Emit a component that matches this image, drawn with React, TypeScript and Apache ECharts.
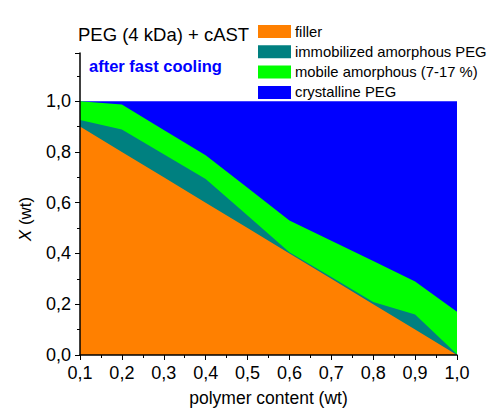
import React, { useEffect, useRef } from "react";
import * as echarts from "echarts";

const xValues = [0.1, 0.2, 0.3, 0.4, 0.5, 0.6, 0.7, 0.8, 0.9, 1.0];
const filler = [0.9, 0.8, 0.7, 0.6, 0.5, 0.4, 0.3, 0.2, 0.1, 0.0];
const immobilized = [0.026, 0.089, 0.091, 0.094, 0.05, 0.005, 0.007, 0.009, 0.06, 0.003];
const mobile = [0.074, 0.098, 0.096, 0.093, 0.109, 0.125, 0.143, 0.161, 0.13, 0.167];
const crystalline = [0.0, 0.013, 0.113, 0.213, 0.341, 0.47, 0.55, 0.63, 0.71, 0.83];

const seriesNames = [
  "filler",
  "immobilized amorphous PEG",
  "mobile amorphous (7-17 %)",
  "crystalline PEG",
];
const seriesColors = ["#FF8000", "#008080", "#00FF00", "#0000FF"];
const seriesValues = [filler, immobilized, mobile, crystalline];

const FONT = "Liberation Sans, Arial, sans-serif";

export default function App() {
  const ref = useRef<HTMLDivElement>(null);
  useEffect(() => {
    if (!ref.current) return;
    const chart = echarts.init(ref.current, undefined, { renderer: "svg" });
    const fmt = (v: number) => v.toFixed(1).replace(".", ",");
    // cumulative tops (stacked manually along y)
    const cumulative: number[][] = [];
    seriesValues.forEach((vals, i) => {
      cumulative.push(vals.map((v, j) => (i === 0 ? v : cumulative[i - 1][j] + v)));
    });
    chart.setOption({
      animation: false,
      backgroundColor: "#ffffff",
      textStyle: { fontFamily: FONT },
      grid: { left: 80, right: 36, top: 53, bottom: 55 },
      legend: {
        orient: "vertical",
        left: 258,
        top: 24,
        padding: 0,
        itemWidth: 33,
        itemHeight: 13,
        itemGap: 5.3,
        icon: "rect",
        textStyle: { fontSize: 14.8, color: "#000", fontFamily: FONT, padding: [0, 0, 0, -1] },
        data: seriesNames,
      },
      xAxis: {
        type: "value",
        min: 0.1,
        max: 1.0,
        interval: 0.1,
        name: "polymer content (wt)",
        nameLocation: "middle",
        nameGap: 34,
        nameTextStyle: { fontSize: 17.5, color: "#000", fontFamily: FONT },
        axisLine: { show: true, lineStyle: { color: "#000", width: 1.5 } },
        axisTick: { show: true, length: 5, lineStyle: { color: "#000", width: 1 } },
        minorTick: { show: true, splitNumber: 2, length: 3, lineStyle: { color: "#000", width: 1 } },
        splitLine: { show: false },
        axisLabel: { fontSize: 18, color: "#000", margin: 9, formatter: fmt, fontFamily: FONT },
        z: 10,
      },
      yAxis: {
        type: "value",
        min: 0,
        max: 1.19,
        interval: 0.2,
        axisLine: { show: true, lineStyle: { color: "#000", width: 1.5 } },
        axisTick: { show: true, length: 5, lineStyle: { color: "#000", width: 1 } },
        minorTick: { show: true, splitNumber: 2, length: 3, lineStyle: { color: "#000", width: 1 } },
        splitLine: { show: false },
        axisLabel: {
          fontSize: 18,
          color: "#000",
          margin: 9,
          showMaxLabel: false,
          formatter: (v: number) => (v > 1.001 ? "" : fmt(v)),
          fontFamily: FONT,
        },
        z: 10,
      },
      graphic: [
        {
          type: "text",
          left: 78,
          top: 25,
          style: { text: "PEG (4 kDa) + cAST", fill: "#000", font: `18.5px ${FONT}` },
        },
        {
          type: "text",
          left: 89,
          top: 57,
          style: { text: "after fast cooling", fill: "#0000FF", font: `bold 16.5px ${FONT}` },
        },
        {
          type: "text",
          x: 25,
          y: 219,
          rotation: Math.PI / 2,
          style: {
            text: "{i|X} (wt)",
            fill: "#000",
            font: `17px ${FONT}`,
            textAlign: "center",
            textVerticalAlign: "middle",
            rich: { i: { fontStyle: "italic", fontSize: 17, fontFamily: FONT } },
          },
        },
      ],
      series: seriesNames.map((name, i) => ({
        name,
        type: "line",
        symbol: "none",
        showSymbol: false,
        lineStyle: { width: 0 },
        itemStyle: { color: seriesColors[i] },
        areaStyle: { color: seriesColors[i], opacity: 1 },
        data: xValues.map((x, j) => [x, cumulative[i][j]]),
        z: 6 - i,
      })),
    });
    return () => chart.dispose();
  }, []);
  return (
    <div
      ref={ref}
      style={{ position: "absolute", left: 0, top: 0, width: 493, height: 412 }}
    />
  );
}
